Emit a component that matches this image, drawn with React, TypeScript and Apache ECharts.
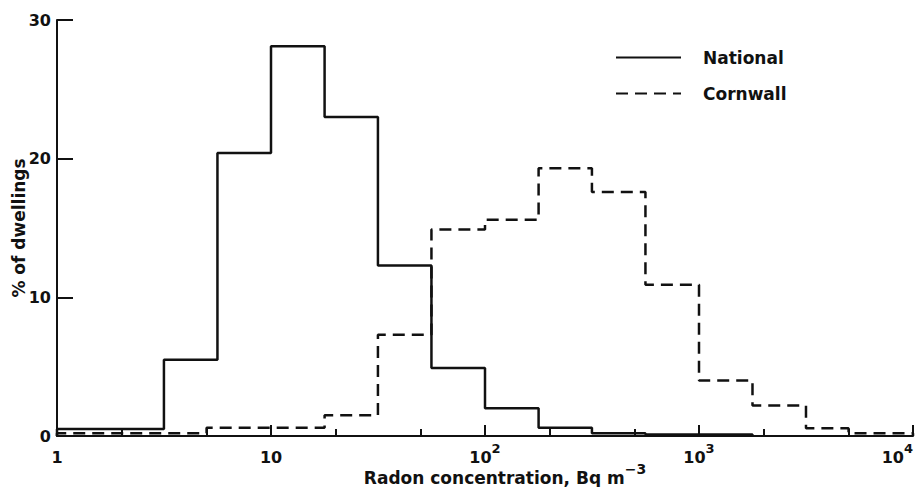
import React, { useEffect, useRef } from 'react';
import * as echarts from 'echarts';

// Bin edges (Bq m^-3) and percentages of dwellings
const nationalEdges = [1, 3.16, 5.62, 10, 17.8, 31.6, 56.2, 100, 178, 316, 562, 1000, 1778];
const nationalValues = [0.5, 5.5, 20.4, 28.1, 23.0, 12.3, 4.9, 2.0, 0.6, 0.2, 0.1, 0.1];
const cornwallEdges = [1, 5, 17.8, 31.6, 56.2, 100, 178, 316, 562, 1000, 1778, 3162, 5000, 10000];
const cornwallValues = [0.2, 0.6, 1.5, 7.3, 14.9, 15.6, 19.3, 17.6, 10.9, 4.0, 2.2, 0.55, 0.2];
const minorTickValues = [2, 5, 20, 50, 200, 500, 2000, 5000];
const seriesNames = ['National', 'Cornwall'];

const FONT = 'DejaVu Sans';
const INK = '#111';

function stepData(edges: number[], values: number[]) {
  const pts: number[][] = [[edges[0], 0]];
  values.forEach((v, i) => pts.push([edges[i], v]));
  pts.push([edges[edges.length - 1], values[values.length - 1]]);
  pts.push([edges[edges.length - 1], 0]);
  return pts;
}

export default function App() {
  const ref = useRef<HTMLDivElement>(null);
  useEffect(() => {
    if (!ref.current) return;
    const chart = echarts.init(ref.current, undefined, { renderer: 'svg' });
    const supRich = {
      sup: { fontSize: 13, fontWeight: 'bold', fontFamily: FONT, color: INK, padding: [0, 0, 18, 0] },
    };
    chart.setOption({
      animation: false,
      backgroundColor: '#fff',
      textStyle: { fontFamily: FONT, color: INK, fontWeight: 'bold' },
      grid: { left: 57, right: 9, top: 20, bottom: 51, containLabel: false, outerBoundsMode: 'none' },
      legend: {
        data: seriesNames,
        orient: 'vertical',
        left: 615,
        top: 49,
        padding: 0,
        itemWidth: 65,
        itemHeight: 14,
        itemGap: 19,
        itemStyle: { opacity: 0 },
        textStyle: {
          fontSize: 17,
          fontWeight: 'bold',
          fontFamily: FONT,
          color: INK,
          padding: [0, 0, 0, 17],
        },
      },
      xAxis: [
        {
          type: 'log',
          logBase: 10,
          min: 1,
          max: 10000,
          position: 'bottom',
          axisLine: { show: true, lineStyle: { color: INK, width: 2 } },
          axisTick: { show: true, inside: true, length: 11, lineStyle: { color: INK, width: 2 } },
          splitLine: { show: false },
          axisLabel: {
            fontSize: 16,
            fontWeight: 'bold',
            fontFamily: FONT,
            color: INK,
            margin: 6,
            lineHeight: 31,
            showMaxLabel: true,
            alignMaxLabel: 'right',
            formatter: (v: number) => {
              const e = Math.round(Math.log10(v));
              if (e === 0) return '1';
              if (e === 1) return '10';
              return '10{sup|' + e + '}';
            },
            rich: supRich,
          },
          name: 'Radon concentration, Bq m{sup|−3}',
          nameLocation: 'middle',
          nameGap: 26,
          nameMoveOverlap: false,
          nameTextStyle: {
            fontSize: 17,
            fontWeight: 'bold',
            fontFamily: FONT,
            color: INK,
            padding: [0, 0, 0, 40],
            rich: {
              sup: { fontSize: 14, fontWeight: 'bold', fontFamily: FONT, color: INK, padding: [0, 0, 18, 0] },
            },
          },
        },
        {
          type: 'value',
          min: 0,
          max: 4,
          position: 'bottom',
          axisLine: { show: false },
          axisLabel: { show: false },
          splitLine: { show: false },
          axisTick: {
            show: true,
            inside: true,
            length: 7,
            lineStyle: { color: INK, width: 2 },
            customValues: minorTickValues.map((v) => Math.log10(v)),
          },
        },
      ],
      yAxis: {
        type: 'value',
        min: 0,
        max: 30,
        interval: 10,
        axisLine: { show: true, lineStyle: { color: INK, width: 2 } },
        axisTick: { show: true, inside: true, length: 16, lineStyle: { color: INK, width: 2 } },
        splitLine: { show: false },
        axisLabel: { fontSize: 16, fontWeight: 'bold', fontFamily: FONT, color: INK, margin: 6 },
        name: '% of dwellings',
        nameLocation: 'middle',
        nameRotate: 90,
        nameGap: 30,
        nameMoveOverlap: false,
        nameTextStyle: { fontSize: 17, fontWeight: 'bold', fontFamily: FONT, color: INK },
      },
      series: [
        {
          name: seriesNames[1],
          type: 'line',
          step: 'end',
          xAxisIndex: 0,
          symbol: 'none',
          silent: true,
          data: stepData(cornwallEdges, cornwallValues),
          lineStyle: { color: INK, width: 2.5, type: [12, 7] },
          itemStyle: { color: INK },
          z: 2,
        },
        {
          name: seriesNames[0],
          type: 'line',
          step: 'end',
          xAxisIndex: 0,
          symbol: 'none',
          silent: true,
          data: stepData(nationalEdges, nationalValues),
          lineStyle: { color: INK, width: 2.5, type: 'solid' },
          itemStyle: { color: INK },
          z: 3,
        },
      ],
    });
    return () => chart.dispose();
  }, []);
  return (
    <div
      ref={ref}
      style={{ position: 'fixed', left: 0, top: 0, width: 922, height: 487, background: '#fff' }}
    />
  );
}
